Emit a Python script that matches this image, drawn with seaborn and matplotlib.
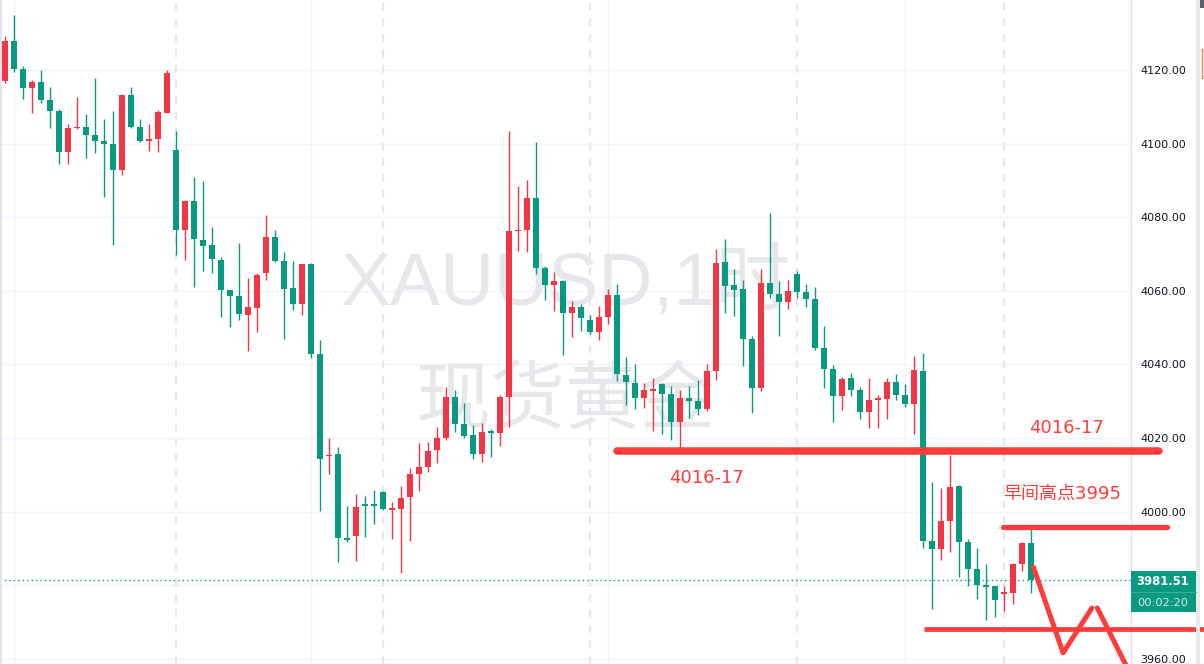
import matplotlib
matplotlib.use("Agg")
import matplotlib.pyplot as plt
from matplotlib.patches import Rectangle
import numpy as np
import pandas as pd
import seaborn as sns

# ---------------- data (1-hour XAUUSD candles) ----------------
opens = [4117.0, 4127.9, 4120.3, 4115.1, 4116.7, 4111.8, 4108.8, 4097.7, 4104.2, 4104.5,
         4102.3, 4100.7, 4099.9, 4092.8, 4113.2, 4104.5, 4100.7, 4101.2, 4108.3, 4098.2,
         4076.5, 4084.4, 4073.8, 4072.4, 4068.4, 4060.2, 4058.6, 4053.4, 4055.3, 4064.8,
         4074.6, 4068.1, 4060.7, 4056.4, 4067.3, 4042.8, 4015.0, 4015.6, 3992.8, 3993.4,
         4002.0, 4002.0, 4005.3, 4000.5, 4000.7, 4004.0, 4010.2, 4012.1, 4016.7, 4020.0,
         4031.1, 4023.8, 4020.8, 4015.6, 4021.8, 4021.4, 4031.1, 4076.2, 4076.5, 4085.2,
         4066.2, 4061.6, 4062.6, 4054.0, 4055.6, 4052.1, 4048.8, 4052.9, 4058.8, 4037.1,
         4034.9, 4030.9, 4032.9, 4034.7, 4031.9, 4024.3, 4030.9, 4030.0, 4027.9, 4038.2,
         4067.8, 4061.6, 4060.5, 4046.9, 4033.6, 4062.1, 4059.1, 4056.9, 4064.6, 4059.7,
         4057.8, 4044.4, 4038.7, 4031.4, 4036.3, 4033.0, 4027.1, 4030.4, 4030.6, 4035.2,
         4031.7, 4029.2, 4038.2, 3992.0, 3989.8, 3997.4, 4007.0, 3991.7, 3984.4, 3980.0,
         3979.8, 3977.6, 3977.9, 3985.7, 3991.5]
highs = [4129.2, 4134.9, 4121.1, 4117.3, 4120.0, 4115.4, 4109.4, 4105.3, 4112.6, 4108.0,
         4117.8, 4106.7, 4108.8, 4113.5, 4115.4, 4106.7, 4105.3, 4109.1, 4120.0, 4103.4,
         4084.7, 4090.9, 4089.8, 4077.3, 4069.2, 4060.3, 4073.0, 4063.5, 4064.8, 4080.6,
         4076.5, 4070.5, 4068.1, 4067.3, 4067.5, 4046.6, 4020.0, 4017.6, 4001.5, 4004.8,
         4004.2, 4005.9, 4005.6, 4002.6, 4007.0, 4011.8, 4018.6, 4018.9, 4023.0, 4033.9,
         4033.0, 4029.5, 4023.5, 4024.1, 4022.4, 4031.7, 4103.4, 4088.5, 4090.1, 4100.4,
         4066.7, 4065.1, 4062.9, 4057.2, 4056.4, 4053.4, 4055.9, 4060.5, 4061.8, 4042.0,
         4040.1, 4034.9, 4036.3, 4034.9, 4034.1, 4033.0, 4034.1, 4035.8, 4040.1, 4071.3,
         4074.1, 4065.9, 4062.9, 4047.7, 4065.9, 4081.1, 4062.6, 4062.9, 4065.4, 4061.8,
         4061.0, 4050.4, 4039.8, 4036.6, 4037.7, 4033.9, 4036.3, 4031.7, 4036.3, 4037.4,
         4034.7, 4042.3, 4043.1, 4008.0, 4006.4, 4015.4, 4007.2, 3992.6, 3990.1, 3985.7,
         3979.8, 3979.8, 3986.0, 3991.7, 3995.3]
lows = [4116.4, 4119.4, 4112.1, 4108.3, 4111.0, 4104.2, 4094.4, 4094.4, 4104.0, 4096.1,
        4097.4, 4085.5, 4072.4, 4091.4, 4104.3, 4100.4, 4098.0, 4097.7, 4108.3, 4069.7,
        4068.4, 4061.0, 4065.4, 4064.8, 4052.9, 4050.2, 4052.1, 4043.6, 4048.8, 4062.9,
        4067.9, 4046.9, 4054.8, 4053.4, 4041.7, 4000.2, 4010.2, 3986.3, 3991.7, 3986.6,
        3993.1, 3996.6, 4000.4, 3992.6, 3983.3, 3992.0, 4005.6, 4010.8, 4013.2, 4019.5,
        4021.6, 4020.0, 4014.3, 4013.5, 4014.8, 4017.8, 4023.0, 4070.8, 4070.5, 4064.6,
        4057.5, 4054.5, 4042.5, 4047.4, 4049.1, 4048.3, 4046.6, 4051.0, 4035.5, 4029.0,
        4027.9, 4028.1, 4021.9, 4021.1, 4019.5, 4017.3, 4025.4, 4026.2, 4027.3, 4035.8,
        4054.0, 4053.1, 4039.6, 4026.8, 4032.8, 4058.0, 4047.7, 4055.0, 4058.0, 4055.6,
        4043.9, 4033.6, 4024.3, 4027.6, 4031.4, 4025.2, 4022.7, 4022.7, 4025.2, 4030.3,
        4028.4, 4021.1, 3990.1, 3973.5, 3986.9, 3989.0, 3982.2, 3979.8, 3976.2, 3970.5,
        3971.3, 3973.0, 3974.9, 3983.9, 3978.0]
closes = [4127.9, 4120.3, 4115.1, 4116.7, 4111.8, 4108.8, 4097.7, 4104.2, 4104.5, 4102.3,
          4100.7, 4099.9, 4092.8, 4113.2, 4104.5, 4100.7, 4101.2, 4108.6, 4119.2, 4076.5,
          4084.4, 4074.1, 4072.2, 4068.6, 4060.2, 4058.6, 4053.7, 4055.6, 4064.3, 4074.6,
          4068.1, 4060.5, 4056.4, 4067.3, 4042.8, 4014.3, 4015.4, 3992.8, 3992.4, 4001.2,
          4001.6, 4001.6, 4000.7, 4000.9, 4003.7, 4010.2, 4012.1, 4016.5, 4020.0, 4031.1,
          4023.8, 4020.5, 4015.6, 4021.6, 4021.4, 4031.1, 4076.2, 4076.6, 4085.2, 4066.2,
          4061.6, 4062.6, 4054.0, 4055.6, 4052.6, 4048.8, 4052.9, 4058.8, 4037.4, 4035.2,
          4030.9, 4033.0, 4033.1, 4031.9, 4024.3, 4030.9, 4030.0, 4027.9, 4038.2, 4067.5,
          4061.3, 4060.2, 4046.9, 4033.6, 4062.1, 4059.1, 4056.9, 4059.9, 4059.7, 4057.8,
          4044.4, 4038.7, 4031.4, 4036.0, 4033.0, 4027.1, 4030.3, 4030.6, 4035.2, 4031.7,
          4029.2, 4038.5, 3992.0, 3989.8, 3997.4, 4006.7, 3991.7, 3984.4, 3980.0, 3979.6,
          3976.0, 3978.1, 3985.7, 3991.5, 3981.51]

price_ticks = [3960, 3980, 4000, 4020, 4040, 4060, 4080, 4100, 4120]
hidden_tick = 3980                     # covered by the last-price badge
grid_bars = [2, 35, 68, 101]           # solid vertical grid lines (bar index)
session_bars = [20, 43, 66, 89, 112]   # dashed session separators (bar index)

last_price_text = "3981.51"
countdown_text = "00:02:20"
watermark_1 = "XAUUSD,1时"
watermark_2 = "现货黄金"

# hand-drawn annotation levels / strokes (bar index, price)
level_main = 4016.5
level_main_span = (69.0, 129.3)
level_morning = 3995.8
level_morning_span = (111.9, 130.1)
level_low = 3968.2
level_low_span = (103.2, 135.0)
zig_a_x = [115.3, 118.6, 121.8]
zig_a_y = [3984.9, 3961.6, 3973.8]
zig_b_x = [122.4, 125.9]
zig_b_y = [3973.8, 3956.7]
labels = [("4016-17", 79.0, 4009.1), ("4016-17", 119.0, 4022.7), ("早间高点3995", 118.5, 4005.0)]

# ---------------- styling ----------------
sns.set_theme(style="white")
plt.rcParams["font.family"] = ["DejaVu Sans", "Noto Sans CJK SC"]

UP = "#F23645"
DOWN = "#089981"
ANN = "#FF3B3B"

W, H = 1204, 664
fig = plt.figure(figsize=(W / 100, H / 100), dpi=100)
fig.patch.set_facecolor("white")
ax = fig.add_axes([0, 0, 1131 / W, 1])
ax.set_facecolor("white")

df = pd.DataFrame({"open": opens, "high": highs, "low": lows, "close": closes})
df["bar"] = np.arange(1, len(df) + 1)
df["up"] = df["close"] >= df["open"]
df["color"] = np.where(df["up"], UP, DOWN)
df["body_lo"] = df[["open", "close"]].min(axis=1)
df["body_h"] = (df["close"] - df["open"]).abs().clip(lower=0.35)

# axes ranges
ax.set_xlim(0.478, 0.478 + 1131 / 9)
ax.set_ylim(3958.58, 4139.02)

# grid
for yv in price_ticks:
    ax.axhline(yv, color="#f0f3fa", lw=1, zorder=0)
for b in grid_bars:
    ax.axvline(b, color="#f0f3fa", lw=1, zorder=0)
for b in session_bars:
    ax.axvline(b, color="#e6e8ee", lw=1.6, ls=(0, (3.5, 3.5)), zorder=0)

# watermark
ax.text(0.5, 1 - 284 / H, watermark_1, transform=ax.transAxes, ha="center", va="center",
        fontsize=54, color="#e6e7eb", family=["Liberation Sans", "Noto Sans CJK SC"], zorder=0.5)
ax.text(0.5, 1 - 401 / H, watermark_2, transform=ax.transAxes, ha="center", va="center",
        fontsize=54, color="#e6e7eb", family=["Noto Sans CJK SC", "DejaVu Sans"], zorder=0.5)

# candles
ax.vlines(df["bar"], df["low"], df["high"], colors=df["color"], lw=1.0, zorder=2)
ax.bar(df["bar"], df["body_h"], bottom=df["body_lo"], width=0.66, color=df["color"],
       linewidth=0, zorder=3)

# last price dotted line
ax.axhline(closes[-1], color=DOWN, lw=1.0, ls=(0, (1, 2.2)), zorder=1.5)

# axis styling
ax.yaxis.tick_right()
ax.set_yticks(price_ticks)
ax.set_yticklabels(["" if v == hidden_tick else f"{v:.2f}" for v in price_ticks])
ax.tick_params(axis="y", length=0, pad=6.5, labelsize=8, labelcolor="#131722")
ax.set_xticks([])
for s in ["top", "left", "bottom"]:
    ax.spines[s].set_visible(False)
ax.spines["right"].set_color("#e0e3eb")
ax.spines["right"].set_linewidth(1)

# annotations
ax.plot(level_main_span, [level_main] * 2, color=ANN, lw=5.4, solid_capstyle="round",
        clip_on=False, zorder=5)
ax.plot(level_morning_span, [level_morning] * 2, color=ANN, lw=3.8, solid_capstyle="round",
        clip_on=False, zorder=5)
ax.plot(level_low_span, [level_low] * 2, color=ANN, lw=3.4, solid_capstyle="butt",
        clip_on=False, zorder=5)
ax.plot(zig_a_x, zig_a_y, color=ANN, lw=3.6, solid_capstyle="round",
        solid_joinstyle="round", zorder=5)
ax.plot(zig_b_x, zig_b_y, color=ANN, lw=3.6, solid_capstyle="round", zorder=5)
for txt, bx, py in labels:
    ax.text(bx, py, txt, ha="center", va="center", fontsize=13, color=ANN, zorder=6)

# last price badge on the price scale
fx = lambda px: px / W
fy = lambda py: 1 - py / H
fig.patches.append(Rectangle((fx(1131), fy(612)), fx(1196) - fx(1131), fy(571) - fy(612),
                             transform=fig.transFigure, facecolor=DOWN, edgecolor="none", zorder=10))
fig.lines.append(plt.Line2D([fx(1131), fx(1196)], [fy(592), fy(592)], transform=fig.transFigure,
                            color="#3aae97", lw=0.8, zorder=11))
fig.text(fx(1163), fy(581.5), last_price_text, ha="center", va="center", fontsize=8.4,
         fontweight="bold", color="white", zorder=12)
fig.text(fx(1163), fy(602.5), countdown_text, ha="center", va="center", fontsize=8.2,
         color="#d8efe9", zorder=12)

# right tool strip and left edge
fig.patches.append(Rectangle((fx(1196), 0), fx(4), 1, transform=fig.transFigure,
                             facecolor="#e9eaee", edgecolor="none", zorder=10))
fig.patches.append(Rectangle((fx(1200), fy(8)), fx(4), fy(0) - fy(8), transform=fig.transFigure,
                             facecolor="#5d606b", edgecolor="none", zorder=10))
fig.patches.append(Rectangle((fx(1201.5), fy(78)), fx(6), fy(49) - fy(78), transform=fig.transFigure,
                             facecolor="none", edgecolor="#ff7a45", lw=1, zorder=10))
fig.patches.append(Rectangle((0, 0), fx(2), 1, transform=fig.transFigure,
                             facecolor="#e0e3eb", edgecolor="none", zorder=10))

fig.savefig("out.png", dpi=100, facecolor="white")
